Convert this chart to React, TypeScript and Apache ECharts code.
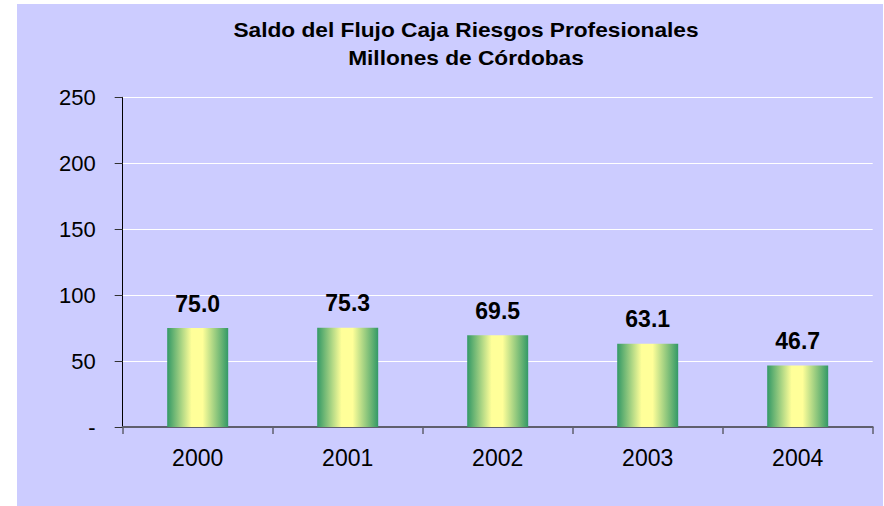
import React, { useEffect, useRef } from "react";
import * as echarts from "echarts";

const titleLines = ["Saldo del Flujo Caja Riesgos Profesionales", "Millones de Córdobas"];
const categories = ["2000", "2001", "2002", "2003", "2004"];
const values = [75.0, 75.3, 69.5, 63.1, 46.7];
const yTickValues = [0, 50, 100, 150, 200, 250];
const yTickLabels = ["-", "50", "100", "150", "200", "250"];

export default function App() {
  const ref = useRef<HTMLDivElement>(null);
  useEffect(() => {
    if (!ref.current) return;
    const chart = echarts.init(ref.current, null, { renderer: "svg" });
    const font = "Liberation Sans, Arial, sans-serif";
    chart.setOption({
      animation: false,
      graphic: [
        {
          type: "rect",
          z: -100,
          shape: { x: 17, y: 4, width: 866, height: 502 },
          style: { fill: "#CCCCFF" },
          silent: true,
        },
        {
          type: "text",
          x: 466,
          y: 16,
          scaleX: 1.135,
          silent: true,
          style: {
            text: titleLines.join("\n"),
            textAlign: "center",
            textVerticalAlign: "top",
            fontFamily: font,
            fontSize: 20,
            fontWeight: "bold",
            lineHeight: 28,
            fill: "#000",
          },
        },
      ],
      grid: { left: 122.7, right: 11.3, top: 97.3, bottom: 79 },
      xAxis: {
        type: "category",
        data: categories,
        axisLine: { lineStyle: { color: "#5f5f6e", width: 2 } },
        axisTick: { show: true, length: 7, interval: 0, lineStyle: { color: "#5f5f6e", width: 1.5 } },
        axisLabel: { margin: 19, fontFamily: font, fontSize: 23, color: "#000" },
        splitLine: { show: false },
      },
      yAxis: {
        type: "value",
        min: yTickValues[0],
        max: yTickValues[yTickValues.length - 1],
        interval: 50,
        axisLine: { show: true, lineStyle: { color: "#000", width: 1 } },
        axisTick: { show: true, length: 8, lineStyle: { color: "#333", width: 1 } },
        axisLabel: {
          margin: 27,
          fontFamily: font,
          fontSize: 22,
          color: "#000",
          formatter: (v: number) => {
            const i = yTickValues.indexOf(v);
            return i >= 0 ? yTickLabels[i] : String(v);
          },
        },
        splitLine: { show: true, lineStyle: { color: "#ffffff", width: 1 } },
      },
      series: [
        {
          type: "bar",
          data: values,
          barWidth: 61,
          itemStyle: {
            color: {
              type: "linear",
              x: 0,
              y: 0,
              x2: 1,
              y2: 0,
              colorStops: [
                { offset: 0, color: "#339966" },
                { offset: 0.4, color: "#FFFF99" },
                { offset: 0.58, color: "#FFFF99" },
                { offset: 1, color: "#339966" },
              ],
            },
          },
          label: {
            show: true,
            position: "top",
            distance: 13,
            fontFamily: font,
            fontSize: 23,
            fontWeight: "bold",
            color: "#000",
            formatter: (p: any) => Number(p.value).toFixed(1),
          },
        },
      ],
    });
    return () => chart.dispose();
  }, []);
  return (
    <div
      ref={ref}
      style={{ position: "fixed", left: 0, top: 0, width: 884, height: 506, background: "#fff" }}
    />
  );
}
